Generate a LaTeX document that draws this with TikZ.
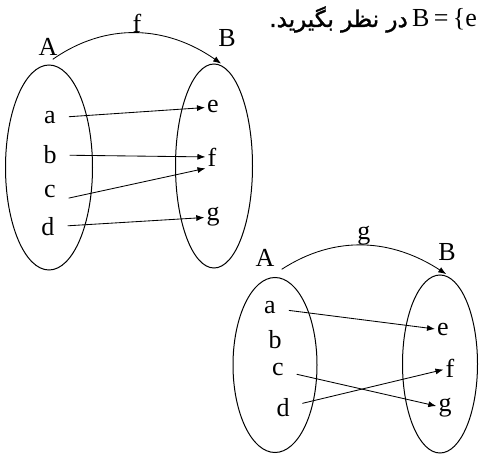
\documentclass[tikz,border=0pt]{standalone}
\usepackage{fontspec}
\setmainfont{Liberation Serif}
\newfontfamily\farsifont[Script=Arabic,FakeBold=1.5]{DejaVu Sans}
\TeXXeTstate=1
\usetikzlibrary{arrows.meta,shapes.geometric}

\begin{document}
\begin{tikzpicture}[x=1pt,y=1pt,>={Latex[length=8pt,width=6pt]},
	set/.style={ellipse,draw,line width=1pt,inner sep=0pt},
	elem/.style={inner sep=2pt,font=\fontsize{26}{30}\selectfont},
	map/.style={->,line width=0.85pt,shorten <=11pt}]
	\useasboundingbox (0,0) rectangle (482,455);
	% the sentence at the top
	\node[anchor=base east,inner sep=0pt,font=\farsifont\fontsize{23}{26}\selectfont] (note) at (408,428) {\beginR در نظر بگیرید.\endR};
	\node[elem,anchor=base west,inner sep=0pt] (setB) at (412,428) {B\,=\,\{e};
	% f : A -> B
	\node[set,minimum width=87pt,minimum height=205pt,outer sep=6pt] (Af) at (49,287.5) {};
	\node[set,minimum width=77pt,minimum height=204pt,outer sep=2pt] (Bf) at (214,289) {};
	\node[elem] (A1) at (48,408) {A};
	\node[elem] (B1) at (227,417) {B};
	\node[elem] (a1) at (50,337) {a};
	\node[elem] (b1) at (50,300) {b};
	\node[elem] (c1) at (50,263) {c};
	\node[elem] (d1) at (48,228) {d};
	\node[elem] (e1) at (213,348) {e};
	\node[elem] (f1) at (212,298) {f};
	\node[elem] (g1) at (213,238) {g};
	\draw[->,line width=0.85pt] (Af.88) to[out=35,in=145] node[elem,above,inner sep=0pt] (flab) {f} (Bf.86);
	\draw[map] (a1) -- (e1);
	\draw[map] (b1) -- (f1);
	\draw[map] (c1.south east) -- (f1.south west);
	\draw[map] (d1) -- (g1);
	% g : A -> B
	\node[set,minimum width=84pt,minimum height=175pt,outer sep=9pt] (Ag) at (275,90) {};
	\node[set,minimum width=75pt,minimum height=178pt,outer sep=2pt] (Bg) at (440,91) {};
	\node[elem] (A2) at (265,197) {A};
	\node[elem] (B2) at (447,203) {B};
	\node[elem] (a2) at (270,147) {a};
	\node[elem] (b2) at (275,115) {b};
	\node[elem] (c2) at (278,85) {c};
	\node[elem] (d2) at (283,47) {d};
	\node[elem] (e2) at (443,125) {e};
	\node[elem] (f2) at (450,87) {f};
	\node[elem] (g2) at (445,47) {g};
	\draw[->,line width=0.85pt] (Ag.86) to[out=33,in=147] node[elem,above,inner sep=0pt] (glab) {g} (Bg.86);
	\draw[map] (a2) -- (e2);
	\draw[map] (c2) -- (g2);
	\draw[map] (d2) -- (f2);
\end{tikzpicture}
\end{document}
